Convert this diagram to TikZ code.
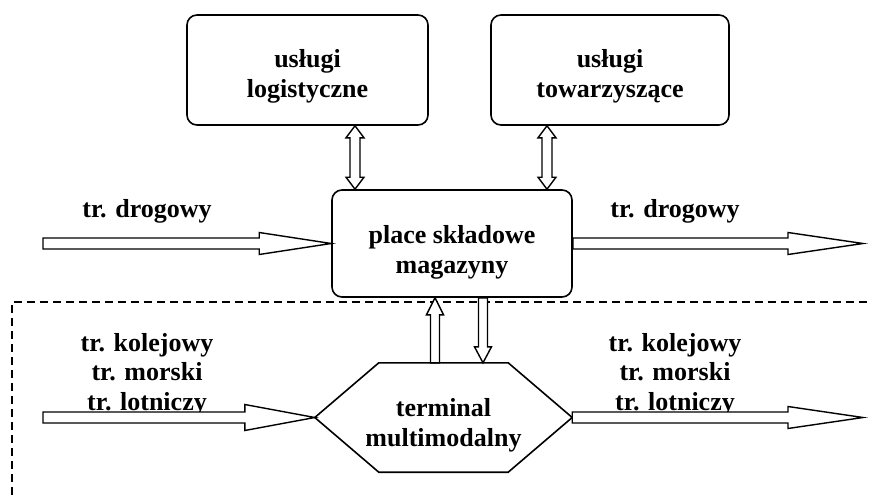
\documentclass[tikz,border=0pt]{standalone}
\usepackage{fontspec}
\setmainfont{Liberation Serif}
\usetikzlibrary{calc}
\tikzset{
  box/.style={draw, line width=1.6pt, rounded corners=10pt, inner sep=0pt},
  fatline/.style={draw, line width=1.4pt, fill=white, line join=miter},
  lbl/.style={align=center, inner sep=0pt, font=\bfseries\fontsize{26}{29.5}\selectfont},
  boxtxt/.style={align=center, inner sep=0pt, font=\bfseries\fontsize{26}{30}\selectfont},
  frame/.style={line width=1.3pt, dash pattern=on 8pt off 5pt}
}
\newcommand\fatarrow[5]{%
  \coordinate (fa-h) at ($(#2)!#5!(#1)$);
  \draw[fatline] ($(#1)!#3!90:(#2)$) -- ($(fa-h)!#3!90:(#2)$) -- ($(fa-h)!#4!90:(#2)$) -- (#2)
     -- ($(fa-h)!#4!-90:(#2)$) -- ($(fa-h)!#3!-90:(#2)$) -- ($(#1)!#3!-90:(#2)$) -- cycle;}
\newcommand\dblarrow[5]{%
  \coordinate (da-h1) at ($(#1)!#5!(#2)$);
  \coordinate (da-h2) at ($(#2)!#5!(#1)$);
  \draw[fatline] (#1) -- ($(da-h1)!#4!90:(#2)$) -- ($(da-h1)!#3!90:(#2)$) -- ($(da-h2)!#3!90:(#2)$)
     -- ($(da-h2)!#4!90:(#2)$) -- (#2) -- ($(da-h2)!#4!-90:(#2)$) -- ($(da-h2)!#3!-90:(#2)$)
     -- ($(da-h1)!#3!-90:(#2)$) -- ($(da-h1)!#4!-90:(#2)$) -- cycle;}
\begin{document}
\begin{tikzpicture}[x=1pt,y=-1pt]
\useasboundingbox (0,0) rectangle (870,495);
% frame
\draw[frame] (12,495) -- (12,302) -- (870,302);
% boxes
\node[box, minimum width=241pt, minimum height=110pt] (log) at (307.5,70) {};
\node[box, minimum width=238pt, minimum height=110pt] (tow) at (610,70) {};
\node[box, minimum width=240pt, minimum height=107pt] (plac) at (452,243.5) {};
\node[boxtxt] (logtxt) at ($(log)+(0,6)$) {usługi\\logistyczne};
\node[boxtxt] (towtxt) at ($(tow)+(0,6)$) {usługi\\towarzyszące};
\node[boxtxt] (plactxt) at ($(plac)+(0,8.5)$) {place składowe\\magazyny};
% hexagon
\node[minimum width=257pt, minimum height=109pt, inner sep=0pt] (term) at (443.5,417.5) {};
\draw[line width=1.6pt] (term.west) -- ($(term.north west)+(64,0)$) -- ($(term.north east)+(-64,0)$)
  -- (term.east) -- ($(term.south east)+(-64,0)$) -- ($(term.south west)+(64,0)$) -- cycle;
\node[boxtxt] (termtxt) at ($(term)+(0,7.5)$) {terminal\\multimodalny};
% labels
\node[lbl] (l1) at (147,211) {tr. drogowy};
\node[lbl] (l2) at (675,211) {tr. drogowy};
\node[lbl] (l3) at (147,374.5) {tr. kolejowy\\tr. morski\\tr. lotniczy};
\node[lbl] (l4) at (675,374.5) {tr. kolejowy\\tr. morski\\tr. lotniczy};
% coordinates
\coordinate (x0) at (43,0);
\coordinate (x5) at (863,0);
\coordinate (x1) at (355,0);
\coordinate (x2) at (547,0);
\coordinate (x3) at (435,0);
\coordinate (x4) at (483,0);
\coordinate (d1a) at (log.south -| x1);
\coordinate (d1b) at (plac.north -| x1);
\coordinate (d2a) at (tow.south -| x2);
\coordinate (d2b) at (plac.north -| x2);
\coordinate (u1a) at (term.north -| x3);
\coordinate (u1b) at (plac.south -| x3);
\coordinate (u2a) at (plac.south -| x4);
\coordinate (u2b) at (term.north -| x4);
\coordinate (plW) at (plac.west);
\coordinate (plE) at (plac.east);
\coordinate (inA) at (plW -| x0);
\coordinate (outA) at (plE -| x5);
\coordinate (tW) at (term.west);
\coordinate (tE) at (term.east);
\coordinate (inB) at (tW -| x0);
\coordinate (outB) at (tE -| x5);
% arrows
\dblarrow{d1a}{d1b}{5pt}{9pt}{12pt}
\dblarrow{d2a}{d2b}{5pt}{9pt}{12pt}
\fatarrow{u1a}{u1b}{4.5pt}{8.5pt}{17pt}
\fatarrow{u2a}{u2b}{4.5pt}{8.5pt}{16pt}
\fatarrow{inA}{plW}{5.5pt}{11pt}{72pt}
\fatarrow{plE}{outA}{5.5pt}{11pt}{75pt}
\fatarrow{inB}{tW}{5.5pt}{13pt}{70pt}
\fatarrow{tE}{outB}{5.5pt}{11pt}{75pt}
\end{tikzpicture}
\end{document}
